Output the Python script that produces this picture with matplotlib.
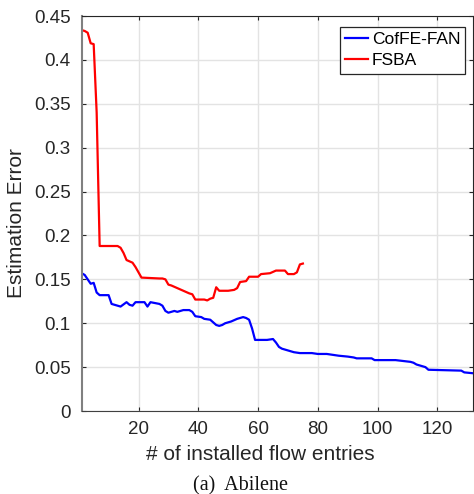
import matplotlib
matplotlib.use("Agg")
import matplotlib.pyplot as plt

# CofFE-FAN (blue)
cof_x = [1, 2, 3, 4, 5, 6, 7, 10, 11, 13, 14, 16, 17, 18, 19, 22, 23, 24, 27, 28, 29, 30,
         32, 33, 35, 37, 38, 39, 41, 42, 44, 45, 46, 47, 48, 49, 51, 53, 54, 55, 56, 57, 58,
         59, 63, 65, 66, 67, 68, 70, 72, 74, 78, 80, 83, 85, 87, 90, 92, 93, 98, 99, 106,
         111, 112, 113, 115, 116, 117, 128, 129, 132]
cof_y = [0.157, 0.155, 0.150, 0.145, 0.146, 0.135, 0.132, 0.132, 0.122, 0.120, 0.119, 0.124,
         0.121, 0.120, 0.124, 0.124, 0.119, 0.124, 0.122, 0.120, 0.114, 0.112, 0.114, 0.113,
         0.115, 0.115, 0.113, 0.108, 0.107, 0.105, 0.104, 0.101, 0.098, 0.097, 0.098, 0.100,
         0.102, 0.105, 0.106, 0.107, 0.106, 0.104, 0.094, 0.081, 0.081, 0.082, 0.078, 0.073,
         0.071, 0.069, 0.067, 0.066, 0.066, 0.065, 0.065, 0.064, 0.063, 0.062, 0.061, 0.060,
         0.060, 0.058, 0.058, 0.056, 0.055, 0.053, 0.051, 0.050, 0.047, 0.046, 0.044, 0.043]

# FSBA (red)
fsba_x = [1, 2, 3, 4, 5, 6, 7, 13, 14, 15, 16, 18, 19, 20, 21, 27, 28, 29, 30, 31, 33, 35,
          37, 38, 39, 41, 42, 43, 44, 45, 46, 47, 50, 52, 53, 54, 56, 57, 60, 61, 64, 66, 69,
          70, 72, 73, 74, 75]
fsba_y = [0.434, 0.433, 0.431, 0.419, 0.418, 0.34, 0.188, 0.188, 0.186, 0.180, 0.172, 0.169,
          0.164, 0.158, 0.152, 0.151, 0.151, 0.150, 0.144, 0.143, 0.140, 0.137, 0.134, 0.133,
          0.127, 0.127, 0.127, 0.126, 0.128, 0.129, 0.141, 0.137, 0.137, 0.138, 0.140, 0.147,
          0.148, 0.153, 0.153, 0.156, 0.157, 0.160, 0.160, 0.156, 0.156, 0.158, 0.167, 0.168]

xticks = [20, 40, 60, 80, 100, 120]
yticks = [0, 0.05, 0.1, 0.15, 0.2, 0.25, 0.3, 0.35, 0.4, 0.45]
ytick_labels = ["0", "0.05", "0.1", "0.15", "0.2", "0.25", "0.3", "0.35", "0.4", "0.45"]

plt.rcParams['font.family'] = ['Liberation Sans', 'DejaVu Sans']

fig = plt.figure(figsize=(4.74, 4.94), dpi=100)
ax = fig.add_axes([0.1724, 0.168, 0.826, 0.7995])

ax.plot(cof_x, cof_y, color=(0, 0, 1), lw=1.6, label="CofFE-FAN")
ax.plot(fsba_x, fsba_y, color=(1, 0, 0), lw=1.6, label="FSBA")

ax.set_xlim(1, 132)
ax.set_ylim(0, 0.45)
ax.set_xticks(xticks)
ax.set_yticks(yticks)
ax.set_yticklabels(ytick_labels)
ax.grid(True, color='#e3e3e3', lw=1.0)
ax.set_axisbelow(True)
ax.tick_params(direction='in', length=3, labelsize=13.5, colors='#262626',
               top=True, right=True)
ax.tick_params(axis='y', pad=8)
ax.tick_params(axis='x', pad=7)
ax.spines['left'].set_color('#808080')
ax.spines['left'].set_linewidth(1.5)
ax.spines['bottom'].set_color('#404040')
ax.spines['top'].set_color('#262626')
ax.spines['right'].set_color('#262626')
for s in ['bottom', 'top', 'right']:
    ax.spines[s].set_linewidth(0.8)

ax.set_ylabel("Estimation Error", fontsize=15, color='#262626', labelpad=6)
ax.yaxis.label.set_y(0.475)
ax.set_xlabel("# of installed flow entries", fontsize=15, color='#262626', labelpad=5)
ax.xaxis.label.set_x(0.455)

leg = ax.legend(loc='upper right', bbox_to_anchor=(0.98, 0.973), fontsize=12.5,
                handlelength=1.35, handletextpad=0.2, borderpad=0.3, labelspacing=0.35,
                fancybox=False, framealpha=1, edgecolor='#262626', borderaxespad=0.0)
leg.get_frame().set_linewidth(0.9)

fig.text(0.508, 0.008, "(a)  Abilene", fontsize=14.5, family='Liberation Serif',
         ha='center', va='baseline', color='#111111')

fig.savefig("out.png", dpi=100)
